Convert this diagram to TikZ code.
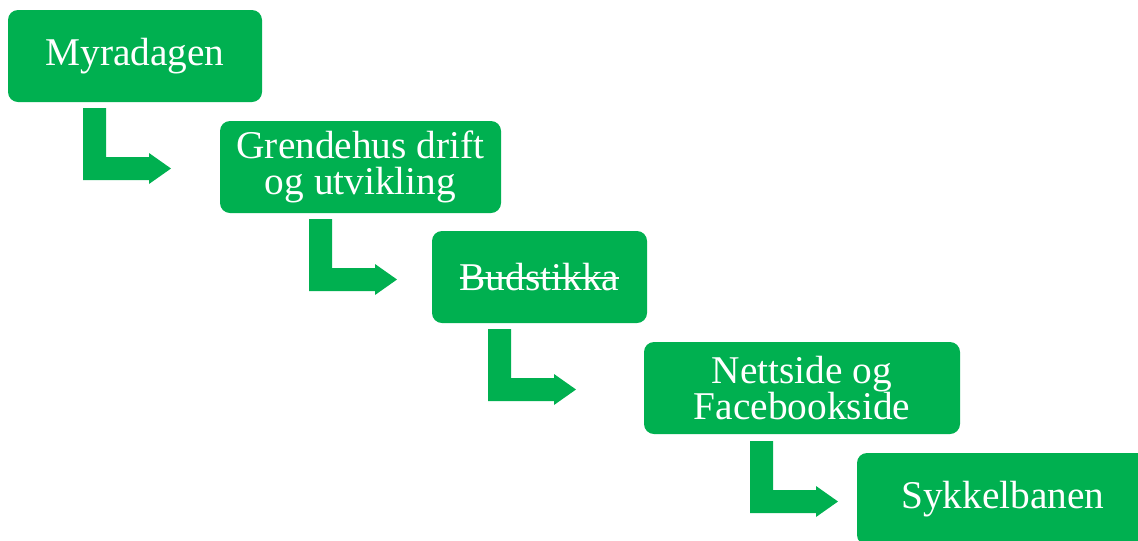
\documentclass[tikz,border=0pt]{standalone}
\usepackage{fontspec}
\setmainfont{Liberation Serif}
\definecolor{boxgreen}{RGB}{0,176,80}
\newcommand\strikeword[1]{\setbox0\hbox{#1}\rlap{\rule[0.28em]{\wd0}{0.05em}}\box0}
\tikzset{
  stepbox/.style={fill=boxgreen, rounded corners=7.5pt, text=white, align=center,
    minimum height=69pt, inner sep=0pt, font=\fontsize{29.5}{27.5}\selectfont},
  bentarrow/.pic={
    \fill[boxgreen] (0,0) -- (23,0) -- (23,49) -- (66,49) -- (66,45) -- (88,60.5)
      -- (66,76) -- (66,72) -- (0,72) -- cycle ;
  }
}
\begin{document}
\begin{tikzpicture}[x=0.75pt,y=0.75pt,yscale=-1,xscale=1]
\useasboundingbox (0,0) rectangle (1138,540);
\clip (0,0) rectangle (1138,540);

%Shape: Rounded Rect
\node[stepbox, minimum width=190.5pt] (myra) at (135,56) {Myradagen};
%Shape: Rounded Rect
\node[stepbox, minimum width=210.75pt] (grende) at (360.5,167) {Grendehus drift\\og utvikling};
%Shape: Rounded Rect
\node[stepbox, minimum width=161.25pt] (bud) at (539.5,277) {\strikeword{Budstikka}};
%Shape: Rounded Rect
\node[stepbox, minimum width=237pt] (nett) at (802,388) {Nettside og\\Facebookside};
%Shape: Rounded Rect
\node[stepbox, minimum width=219pt] (sykkel) at (1003,499) {Sykkelbanen};

%Shape: Bent Arrow
\pic[transform shape] at (83,108) {bentarrow};
%Shape: Bent Arrow
\pic[transform shape] at (309,219) {bentarrow};
%Shape: Bent Arrow
\pic[transform shape] at (488,329) {bentarrow};
%Shape: Bent Arrow
\pic[transform shape] at (750,441) {bentarrow};

\end{tikzpicture}
\end{document}
